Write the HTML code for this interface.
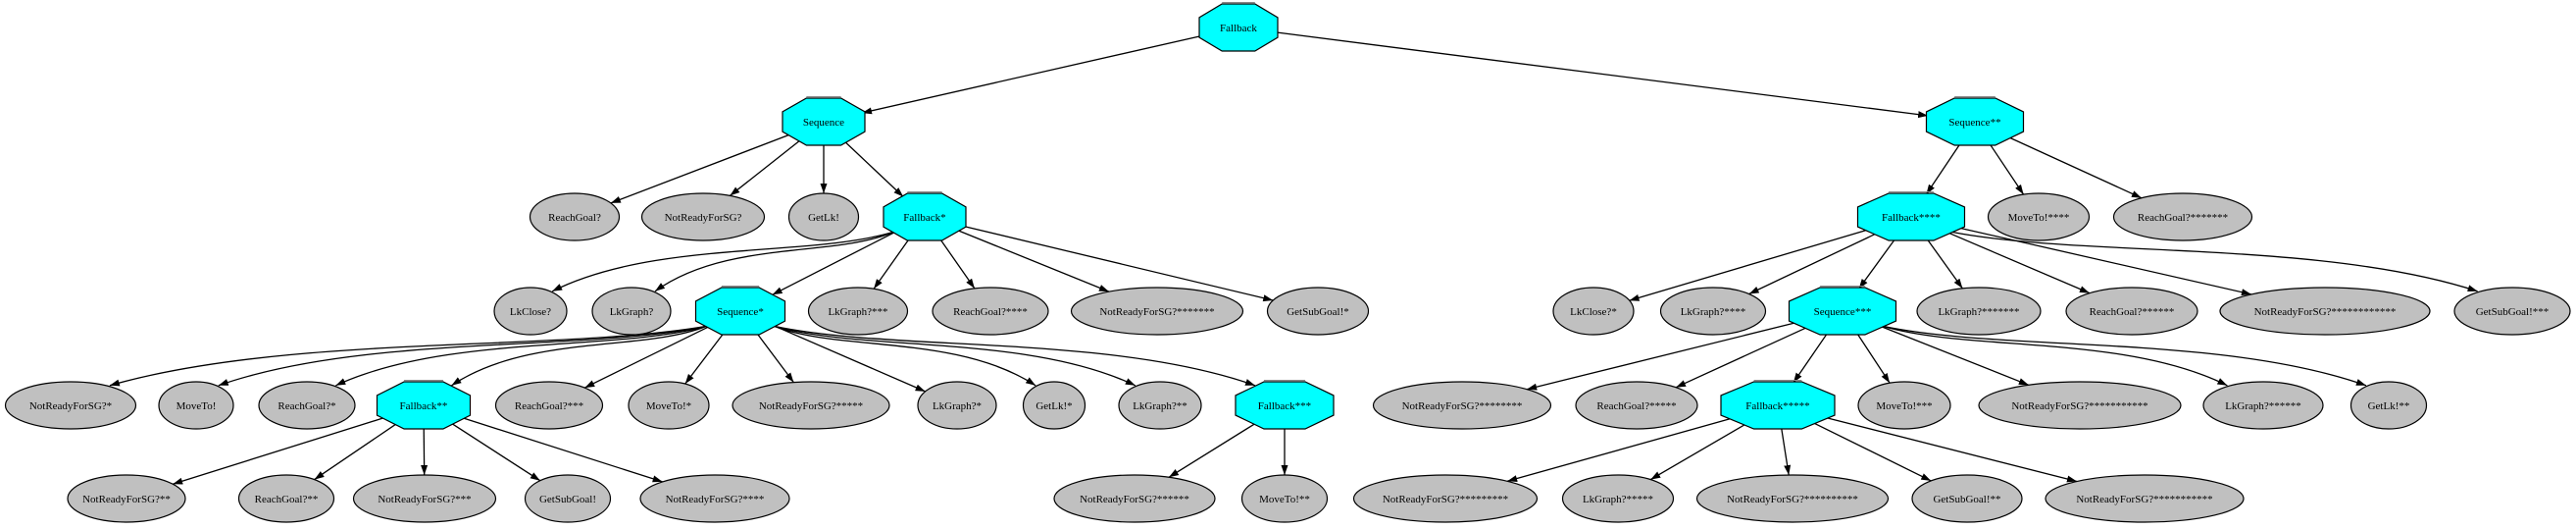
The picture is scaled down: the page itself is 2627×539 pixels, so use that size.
<!DOCTYPE html>
<html><head><meta charset="utf-8"><style>
html,body{margin:0;padding:0;background:#fff;}
svg{display:block}
text{font-family:"Liberation Serif",serif;font-size:11px;}
</style></head><body>
<svg id="g" width="2627" height="539" viewBox="0 0 2627 539" xmlns="http://www.w3.org/2000/svg">
<defs><marker id="a" viewBox="0 0 10 10" refX="10" refY="5" markerWidth="10" markerHeight="10" markerUnits="userSpaceOnUse" orient="auto"><path d="M0,1.5 L10,5 L0,8.5 z" fill="#000"/></marker></defs>
</svg>
<script>
var Y=[28,124,221,317,413,508];
var N=[
["F","Fallback",1263,0,80,"o",null],
["S","Sequence",840,1,84,"o","F"],
["S2","Sequence**",2014,1,99,"o","F"],
["a1","ReachGoal?",586,2,91,"e","S"],
["a2","NotReadyForSG?",717,2,125,"e","S"],
["a3","GetLk!",840,2,71,"e","S"],
["F1","Fallback*",943,2,84,"o","S"],
["F4","Fallback****",1949,2,109,"o","S2"],
["b1","MoveTo!****",2079,2,103,"e","S2"],
["b2","ReachGoal?*******",2226,2,141,"e","S2"],
["c1","LkClose?",541,3,74,"e","F1"],
["c2","LkGraph?",644,3,80,"e","F1"],
["S1","Sequence*",755,3,91,"o","F1"],
["c3","LkGraph?***",875,3,101,"e","F1"],
["c4","ReachGoal?****",1010,3,118,"e","F1"],
["c5","NotReadyForSG?*******",1180,3,175,"e","F1"],
["c6","GetSubGoal!*",1344,3,103,"e","F1"],
["d1","LkClose?*",1625,3,82,"e","F4"],
["d2","LkGraph?****",1747,3,107,"e","F4"],
["S3","Sequence***",1879,3,109,"o","F4"],
["d3","LkGraph?*******",2018,3,126,"e","F4"],
["d4","ReachGoal?******",2174,3,134,"e","F4"],
["d5","NotReadyForSG?************",2371,3,214,"e","F4"],
["d6","GetSubGoal!***",2562,3,118,"e","F4"],
["e1","NotReadyForSG?*",72,4,133,"e","S1"],
["e2","MoveTo!",200,4,76,"e","S1"],
["e3","ReachGoal?*",313,4,98,"e","S1"],
["F2","Fallback**",432,4,95,"o","S1"],
["e4","ReachGoal?***",560,4,109,"e","S1"],
["e5","MoveTo!*",682,4,82,"e","S1"],
["e6","NotReadyForSG?*****",827,4,160,"e","S1"],
["e7","LkGraph?*",976,4,80,"e","S1"],
["e8","GetLk!*",1075,4,63,"e","S1"],
["e9","LkGraph?**",1183,4,84,"e","S1"],
["F3","Fallback***",1310,4,100,"o","S1"],
["f1","NotReadyForSG?********",1491,4,181,"e","S3"],
["f2","ReachGoal?*****",1669,4,124,"e","S3"],
["F5","Fallback*****",1813,4,116,"o","S3"],
["f3","MoveTo!***",1942,4,94,"e","S3"],
["f4","NotReadyForSG?***********",2121,4,206,"e","S3"],
["f5","LkGraph?******",2308,4,122,"e","S3"],
["f6","GetLk!**",2436,4,77,"e","S3"],
["g1","NotReadyForSG?**",129,5,120,"e","F2"],
["g2","ReachGoal?**",292,5,97,"e","F2"],
["g3","NotReadyForSG?***",433,5,145,"e","F2"],
["g4","GetSubGoal!",579,5,87,"e","F2"],
["g5","NotReadyForSG?****",729,5,152,"e","F2"],
["h1","NotReadyForSG?******",1157,5,164,"e","F3"],
["h2","MoveTo!**",1310,5,87,"e","F3"],
["i1","NotReadyForSG?*********",1474,5,187,"e","F5"],
["i2","LkGraph?*****",1650,5,113,"e","F5"],
["i3","NotReadyForSG?**********",1828,5,195,"e","F5"],
["i4","GetSubGoal!**",2006,5,112,"e","F5"],
["i5","NotReadyForSG?***********",2187,5,202,"e","F5"]
];
var CURV={c1:1,c2:1,e1:1,e2:1,e3:1,F2:1,e8:1,e9:1,F3:1,f5:1,f6:1,d6:1};
var H=48,M={},s="";
N.forEach(function(n){M[n[0]]=n;});
function bd(n,dx,dy){var rx=n[4]/2,ry=H/2;var t=1/Math.sqrt(dx*dx/(rx*rx)+dy*dy/(ry*ry));return [dx*t,dy*t];}
N.forEach(function(n){if(!n[6])return;var p=M[n[6]];var px=p[2],py=Y[p[3]],cx=n[2],cy=Y[n[3]];var dx=cx-px,dy=cy-py;
if(CURV[n[0]]){
 var sx=px+(dx>0?1:-1)*p[4]*0.38, sy=py+H*0.32;
 var ex=cx-(dx>0?1:-1)*n[4]*0.3, ey=cy-H*0.42;
 var ddx=ex-sx;
 s+='<path d="M'+sx.toFixed(1)+','+sy.toFixed(1)+' C'+(sx+ddx*0.25).toFixed(1)+','+(sy+26).toFixed(1)+' '+(ex-ddx*0.3).toFixed(1)+','+(sy+8).toFixed(1)+' '+ex.toFixed(1)+','+ey.toFixed(1)+'" fill="none" stroke="#000" stroke-width="1.3" marker-end="url(#a)"/>';
 return;}
var b1=bd(p,dx,dy),b2=bd(n,-dx,-dy);
s+='<line x1="'+(px+b1[0]*0.97).toFixed(1)+'" y1="'+(py+b1[1]*0.97).toFixed(1)+'" x2="'+(cx+b2[0]).toFixed(1)+'" y2="'+(cy+b2[1]).toFixed(1)+'" stroke="#000" stroke-width="1.3" marker-end="url(#a)"/>';});
N.forEach(function(n){var x=n[2],y=Y[n[3]],w=n[4]/2,h=H/2;
if(n[5]=="e"){s+='<ellipse cx="'+x+'" cy="'+y+'" rx="'+w+'" ry="'+h+'" fill="#c0c0c0" stroke="#000" stroke-width="1.2"/>';}
else{var a=w*0.42,b=h*0.42;var pts=[[-a,-h],[a,-h],[w,-b],[w,b],[a,h],[-a,h],[-w,b],[-w,-b]].map(function(q){return (x+q[0]).toFixed(1)+','+(y+q[1]).toFixed(1)}).join(' ');
s+='<polygon points="'+pts+'" fill="#00ffff" stroke="#000" stroke-width="1.2"/><line x1="'+(x-a)+'" y1="'+(y-h-1.5)+'" x2="'+(x+a)+'" y2="'+(y-h-1.5)+'" stroke="#888" stroke-width="1"/>';}
s+='<text x="'+x+'" y="'+(y+4)+'" text-anchor="middle">'+n[1]+'</text>';});
document.getElementById("g").insertAdjacentHTML("beforeend",s);
</script>
</body></html>
